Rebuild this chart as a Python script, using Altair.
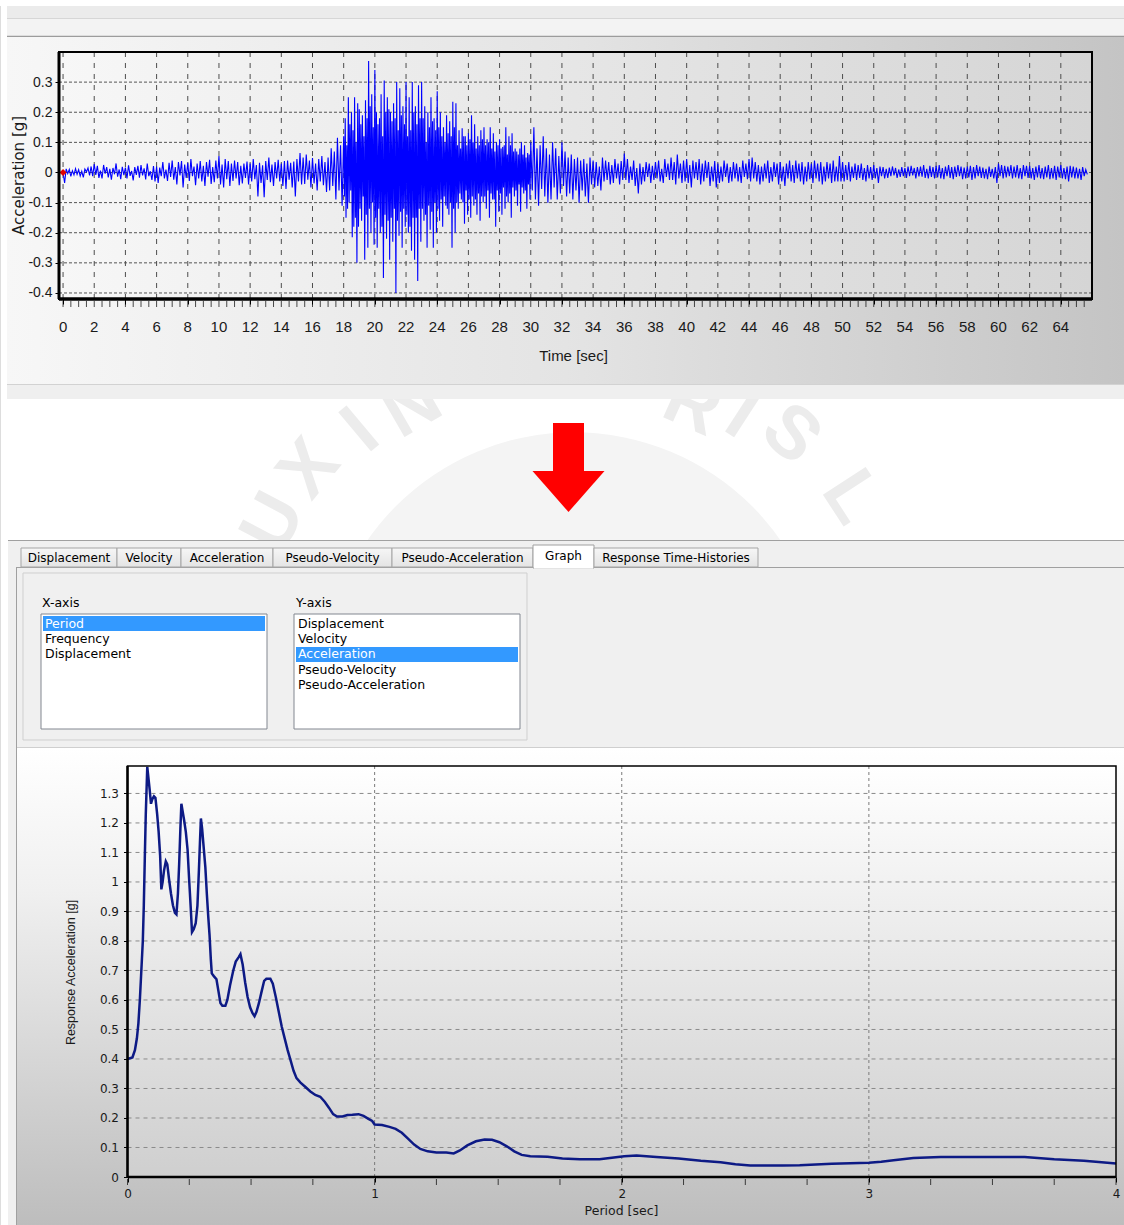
import math
import altair as alt
import pandas as pd

W, H = 1124, 1225

# ---------------------------------------------------------------------------
# Ground acceleration record [g]; one row per second.
# 0-18 s and 30-65.7 s sampled every 0.1 s, strong phase 18-30 s every 0.05 s
# ---------------------------------------------------------------------------
acc_early = [
    0.000, -0.035, 0.012, -0.004, 0.010, -0.013, 0.006, -0.008, 0.013, -0.006,
    0.009, -0.012, 0.004, -0.016, 0.011, 0.002, 0.015, -0.010, 0.020, -0.012,
    0.028, -0.008, 0.022, -0.018, 0.006, -0.020, 0.025, -0.004, 0.018, -0.016,
    0.012, -0.024, 0.015, -0.006, 0.030, -0.014, 0.010, -0.022, 0.019, -0.009,
    0.016, -0.020, 0.024, -0.011, 0.005, -0.026, 0.018, -0.008, 0.022, -0.017,
    0.025, -0.010, 0.014, -0.023, 0.030, -0.012, 0.004, -0.025, 0.021, -0.030,
    0.020, -0.035, 0.016, -0.012, 0.035, -0.020, 0.010, -0.028, 0.032, -0.015,
    0.040, -0.024, 0.018, -0.040, 0.035, -0.010, 0.038, -0.050, 0.026, -0.018,
    0.032, -0.028, 0.045, -0.012, 0.020, -0.042, 0.030, -0.020, 0.038, -0.030,
    0.022, -0.045, 0.035, -0.014, 0.042, -0.038, 0.018, -0.032, 0.040, -0.020,
    0.055, -0.040, 0.026, -0.050, 0.045, -0.022, 0.038, -0.045, 0.030, -0.028,
    0.040, -0.020, 0.035, -0.042, 0.022, -0.036, 0.030, -0.018, 0.036, -0.040,
    0.030, -0.030, 0.045, -0.022, 0.025, -0.080, 0.032, -0.035, 0.024, -0.082,
    0.038, -0.025, 0.050, -0.032, 0.026, -0.045, 0.035, -0.020, 0.042, -0.030,
    0.030, -0.045, 0.038, -0.055, 0.040, -0.024, 0.032, -0.050, 0.036, -0.080,
    0.045, -0.030, 0.065, -0.040, 0.050, -0.038, 0.060, -0.024, 0.040, -0.050,
    0.048, -0.036, 0.030, -0.060, 0.045, -0.030, 0.055, -0.042, 0.035, -0.065,
    0.050, -0.060, 0.080, -0.045, 0.070, -0.090, 0.115, -0.060, 0.090, -0.110,
]
acc_strong = [
    0.120, -0.080, 0.180, -0.150, 0.090, -0.120, 0.250, -0.100, 0.160, -0.060,
    0.200, -0.215, 0.140, -0.180, 0.250, -0.150, 0.100, -0.300, 0.230, -0.180,
    0.210, -0.120, 0.160, -0.160, 0.190, -0.080, 0.120, -0.290, 0.240, -0.140,
    0.180, -0.250, 0.370, -0.120, 0.220, -0.200, 0.260, -0.100, 0.150, -0.240,
    0.340, -0.150, 0.200, -0.250, 0.160, -0.120, 0.180, -0.200, 0.260, -0.180,
    0.120, -0.350, 0.305, -0.140, 0.200, -0.220, 0.250, -0.160, 0.210, -0.290,
    0.200, -0.150, 0.170, -0.230, 0.230, -0.120, 0.180, -0.400, 0.300, -0.160,
    0.140, -0.210, 0.280, -0.130, 0.190, -0.250, 0.220, -0.120, 0.160, -0.180,
    0.300, -0.140, 0.120, -0.200, 0.250, -0.180, 0.140, -0.260, 0.300, -0.150,
    0.200, -0.290, 0.220, -0.150, 0.160, -0.360, 0.290, -0.120, 0.180, -0.230,
    0.300, -0.120, 0.180, -0.160, 0.220, -0.140, 0.100, -0.250, 0.200, -0.110,
    0.150, -0.190, 0.250, -0.130, 0.170, -0.250, 0.180, -0.100, 0.140, -0.200,
    0.270, -0.120, 0.150, -0.160, 0.200, -0.090, 0.120, -0.180, 0.150, -0.080,
    0.100, -0.110, 0.190, -0.120, 0.130, -0.140, 0.170, -0.100, 0.120, -0.250,
    0.235, -0.120, 0.150, -0.200, 0.230, -0.100, 0.090, -0.120, 0.140, -0.070,
    0.080, -0.090, 0.147, -0.100, 0.120, -0.170, 0.120, -0.060, 0.090, -0.140,
    0.130, -0.090, 0.110, -0.150, 0.190, -0.080, 0.100, -0.110, 0.160, -0.090,
    0.080, -0.140, 0.120, -0.070, 0.090, -0.160, 0.140, -0.080, 0.110, -0.100,
    0.150, -0.080, 0.090, -0.120, 0.110, -0.060, 0.100, -0.150, 0.150, -0.070,
    0.080, -0.090, 0.130, -0.090, 0.070, -0.180, 0.100, -0.060, 0.090, -0.130,
    0.110, -0.070, 0.080, -0.140, 0.085, -0.050, 0.090, -0.120, 0.150, -0.080,
    0.060, -0.100, 0.120, -0.070, 0.090, -0.150, 0.130, -0.050, 0.070, -0.080,
    0.080, -0.060, 0.070, -0.110, 0.060, -0.040, 0.080, -0.130, 0.100, -0.050,
    0.060, -0.070, 0.090, -0.060, 0.050, -0.120, 0.065, -0.040, 0.060, -0.090,
]
acc_late = [
    0.100, -0.060, 0.150, -0.090, 0.080, -0.110, 0.090, -0.055, 0.120, -0.080,
    0.080, -0.100, 0.060, -0.090, 0.100, -0.050, 0.080, -0.090, 0.055, -0.070,
    0.100, -0.045, 0.070, -0.080, 0.050, -0.070, 0.060, -0.090, 0.045, -0.060,
    0.050, -0.100, 0.040, -0.060, 0.045, -0.080, 0.030, -0.100, 0.050, -0.040,
    0.040, -0.050, 0.035, -0.045, 0.020, -0.060, 0.050, -0.030, 0.040, -0.025,
    0.035, -0.040, 0.025, -0.035, 0.045, -0.020, 0.030, -0.040, 0.038, -0.025,
    0.063, -0.025, 0.045, -0.035, 0.020, -0.025, 0.040, -0.045, 0.015, -0.070,
    0.030, -0.040, 0.018, -0.030, 0.035, -0.015, 0.030, -0.035, 0.022, -0.025,
    0.035, -0.020, 0.040, -0.030, 0.012, -0.035, 0.045, -0.015, 0.030, -0.025,
    0.050, -0.025, 0.035, -0.040, 0.060, -0.020, 0.030, -0.035, 0.040, -0.030,
    0.045, -0.035, 0.025, -0.050, 0.040, -0.020, 0.035, -0.025, 0.045, -0.040,
    0.030, -0.030, 0.040, -0.018, 0.035, -0.045, 0.020, -0.030, 0.038, -0.050,
    0.030, -0.035, 0.020, -0.030, 0.040, -0.015, 0.030, -0.035, 0.018, -0.030,
    0.035, -0.020, 0.030, -0.030, 0.018, -0.035, 0.040, -0.015, 0.030, -0.022,
    0.045, -0.030, 0.050, -0.020, 0.035, -0.030, 0.025, -0.040, 0.020, -0.030,
    0.030, -0.020, 0.040, -0.035, 0.018, -0.030, 0.035, -0.015, 0.030, -0.040,
    0.035, -0.030, 0.020, -0.045, 0.030, -0.020, 0.040, -0.030, 0.025, -0.035,
    0.040, -0.020, 0.030, -0.030, 0.035, -0.040, 0.020, -0.030, 0.035, -0.022,
    0.030, -0.035, 0.040, -0.020, 0.030, -0.030, 0.035, -0.040, 0.020, -0.030,
    0.035, -0.020, 0.030, -0.035, 0.040, -0.030, 0.020, -0.030, 0.055, -0.030,
    0.035, -0.030, 0.025, -0.025, 0.035, -0.030, 0.020, -0.018, 0.030, -0.025,
    0.025, -0.018, 0.030, -0.025, 0.015, -0.030, 0.025, -0.020, 0.018, -0.025,
    0.025, -0.020, 0.015, -0.035, 0.020, -0.012, 0.018, -0.020, 0.012, -0.018,
    0.016, -0.012, 0.020, -0.010, 0.015, -0.018, 0.010, -0.015, 0.018, -0.012,
    0.015, -0.018, 0.020, -0.012, 0.022, -0.010, 0.015, -0.020, 0.018, -0.013,
    0.020, -0.014, 0.025, -0.018, 0.012, -0.020, 0.022, -0.015, 0.018, -0.020,
    0.022, -0.016, 0.025, -0.020, 0.015, -0.022, 0.020, -0.012, 0.025, -0.018,
    0.018, -0.022, 0.020, -0.015, 0.025, -0.012, 0.020, -0.022, 0.016, -0.020,
    0.020, -0.016, 0.022, -0.025, 0.018, -0.020, 0.025, -0.012, 0.020, -0.018,
    0.016, -0.020, 0.012, -0.022, 0.020, -0.015, 0.012, -0.020, 0.018, -0.035,
    0.030, -0.012, 0.025, -0.020, 0.022, -0.016, 0.020, -0.012, 0.025, -0.020,
    0.020, -0.016, 0.025, -0.020, 0.015, -0.022, 0.025, -0.012, 0.022, -0.018,
    0.022, -0.020, 0.015, -0.025, 0.020, -0.016, 0.025, -0.020, 0.015, -0.022,
    0.020, -0.016, 0.025, -0.022, 0.015, -0.020, 0.022, -0.025, 0.020, -0.016,
    0.025, -0.020, 0.015, -0.022, 0.020, -0.030, 0.022, -0.016, 0.020, -0.020,
    0.016, -0.020, 0.012, -0.025, 0.018, -0.012, 0.010, -0.006,
]
acc_g = acc_early + acc_strong + acc_late
acc_t = ([round(i * 0.1, 2) for i in range(len(acc_early))]
         + [round(18 + i * 0.05, 2) for i in range(len(acc_strong))]
         + [round(30 + i * 0.1, 2) for i in range(len(acc_late))])

# ---------------------------------------------------------------------------
# 5 %-damped response spectrum: period [s] vs. response acceleration [g]
# ---------------------------------------------------------------------------
period_s = [
    0.000, 0.020, 0.030, 0.038, 0.044, 0.050, 0.056, 0.062, 0.066, 0.070,
    0.074, 0.080, 0.085, 0.090, 0.095, 0.100, 0.107, 0.113, 0.120, 0.126,
    0.132, 0.137, 0.142, 0.148, 0.155, 0.161, 0.168, 0.176, 0.184, 0.192,
    0.198, 0.204, 0.209, 0.214, 0.218, 0.223, 0.229, 0.236, 0.243, 0.250,
    0.256, 0.261, 0.268, 0.276, 0.283, 0.289, 0.293, 0.297, 0.302, 0.308,
    0.315, 0.321, 0.327, 0.332, 0.337, 0.341, 0.350, 0.360, 0.368, 0.376,
    0.384, 0.396, 0.404, 0.415, 0.428, 0.438, 0.450, 0.457, 0.466, 0.476,
    0.486, 0.496, 0.506, 0.514, 0.522, 0.532, 0.543, 0.553, 0.562, 0.578,
    0.588, 0.600, 0.612, 0.624, 0.636, 0.648, 0.660, 0.672, 0.684, 0.700,
    0.720, 0.740, 0.760, 0.780, 0.798, 0.815, 0.832, 0.848, 0.870, 0.890,
    0.910, 0.935, 0.955, 0.975, 0.990, 1.000, 1.030, 1.060, 1.085, 1.110,
    1.135, 1.160, 1.185, 1.215, 1.250, 1.290, 1.320, 1.345, 1.375, 1.410,
    1.445, 1.475, 1.505, 1.535, 1.565, 1.595, 1.630, 1.700, 1.760, 1.830,
    1.910, 1.960, 2.010, 2.060, 2.140, 2.230, 2.320, 2.400, 2.460, 2.520,
    2.650, 2.720, 2.850, 3.000, 3.050, 3.100, 3.180, 3.290, 3.500, 3.630,
    3.750, 3.870, 3.930, 4.000,
]
sa_g = [
    0.400, 0.405, 0.430, 0.470, 0.520, 0.600, 0.700, 0.800, 0.920, 1.080,
    1.230, 1.390, 1.350, 1.310, 1.265, 1.280, 1.290, 1.285, 1.230, 1.170,
    1.090, 0.975, 1.000, 1.040, 1.070, 1.060, 1.010, 0.960, 0.920, 0.895,
    0.890, 0.960, 1.060, 1.180, 1.265, 1.240, 1.210, 1.170, 1.110, 1.000,
    0.910, 0.830, 0.840, 0.860, 0.920, 1.040, 1.130, 1.215, 1.180, 1.120,
    1.050, 0.960, 0.880, 0.820, 0.740, 0.690, 0.680, 0.670, 0.630, 0.590,
    0.580, 0.580, 0.600, 0.650, 0.700, 0.730, 0.745, 0.755, 0.720, 0.660,
    0.610, 0.575, 0.555, 0.545, 0.560, 0.590, 0.630, 0.665, 0.672, 0.672,
    0.655, 0.610, 0.560, 0.510, 0.470, 0.430, 0.395, 0.360, 0.335, 0.320,
    0.305, 0.290, 0.278, 0.272, 0.255, 0.235, 0.213, 0.205, 0.205, 0.210,
    0.211, 0.213, 0.207, 0.197, 0.190, 0.178, 0.176, 0.170, 0.163, 0.150,
    0.130, 0.110, 0.095, 0.087, 0.083, 0.083, 0.080, 0.090, 0.107, 0.121,
    0.127, 0.126, 0.118, 0.104, 0.087, 0.075, 0.070, 0.069, 0.063, 0.060,
    0.060, 0.065, 0.070, 0.073, 0.068, 0.063, 0.055, 0.050, 0.043, 0.039,
    0.039, 0.040, 0.045, 0.048, 0.052, 0.057, 0.064, 0.068, 0.068, 0.068,
    0.060, 0.055, 0.051, 0.046,
]

# axis ticks
time_labels = list(range(0, 65, 2))
time_minor = [i * 0.5 for i in range(0, 132)]
acc_ticks = [-0.4, -0.3, -0.2, -0.1, 0.0, 0.1, 0.2, 0.3]
period_labels = [0, 1, 2, 3, 4]
period_grid = [1, 2, 3]
period_minor = [i * 0.25 for i in range(0, 17)]
sa_ticks = [0.0, 0.1, 0.2, 0.3, 0.4, 0.5, 0.6, 0.7, 0.8, 0.9, 1.0, 1.1, 1.2, 1.3]

# dialog texts
tab_names = ["Displacement", "Velocity", "Acceleration", "Pseudo-Velocity",
             "Pseudo-Acceleration", "Graph", "Response Time-Histories"]
xaxis_items = ["Period", "Frequency", "Displacement"]
yaxis_items = ["Displacement", "Velocity", "Acceleration", "Pseudo-Velocity",
               "Pseudo-Acceleration"]

# watermark lettering (the part of the seal's motto left uncovered)
wm_letters = ["U", "X", "I", "N", "R", "I", "S", "L"]
wm_angles = [-62, -51, -40, -30, 24, 33, 42, 57]
wm_radius = [335, 335, 325, 315, 300, 315, 330, 335]

PLOT = "Liberation Sans, Arial, sans-serif"
UI = "DejaVu Sans, Verdana, sans-serif"

ONE = pd.DataFrame({"k": [0]})


# ---------------------------------------------------------------------------
# helpers for the window chrome (pixel placed)
# ---------------------------------------------------------------------------
def grad(stops, vertical=False):
    return alt.LinearGradient(
        gradient="linear",
        stops=[alt.GradientStop(color=c, offset=o) for o, c in stops],
        x1=0, y1=0, x2=0 if vertical else 1, y2=1 if vertical else 0,
    )


def box(x0, x1, y0, y1, fill="transparent", stroke=None, sw=1.0):
    props = dict(fill=fill)
    if stroke is not None:
        props.update(stroke=stroke, strokeWidth=sw)
    return alt.Chart(ONE).mark_rect(**props).encode(
        x=alt.value(x0), x2=alt.value(x1), y=alt.value(y0), y2=alt.value(y1))


def hline(y, x0, x1, color, sw=1.0):
    return alt.Chart(ONE).mark_rule(color=color, strokeWidth=sw).encode(
        x=alt.value(x0), x2=alt.value(x1), y=alt.value(y))


def vline(x, y0, y1, color, sw=1.0):
    return alt.Chart(ONE).mark_rule(color=color, strokeWidth=sw).encode(
        x=alt.value(x), y=alt.value(y0), y2=alt.value(y1))


def label(s, x, y, size=12, font=UI, color="#000000", align="left", angle=0, weight="normal"):
    return alt.Chart(ONE).mark_text(
        text=s, align=align, baseline="middle", font=font, fontSize=size,
        color=color, angle=angle, fontWeight=weight,
    ).encode(x=alt.value(x), y=alt.value(y))


decor = []

# faint university seal behind everything
decor.append(
    alt.Chart(ONE).mark_point(shape="circle", filled=True, fill="#f4f4f4", strokeWidth=0,
                              opacity=1, size=math.pi * 284 ** 2)
    .encode(x=alt.value(574), y=alt.value(684)))
for ch, ang, r in zip(wm_letters, wm_angles, wm_radius):
    px = 570 + r * math.sin(math.radians(ang))
    py = 680 - r * math.cos(math.radians(ang))
    decor.append(label(ch, px, py, size=74, font=PLOT, color="#ececec",
                       align="center", angle=ang % 360, weight="bold"))

# top tool strip and accelerogram panel
decor += [
    box(0, W, 0, 6, fill="#ffffff"),
    box(7, W, 6, 18, fill="#ebebeb"),
    hline(18.5, 7, W, "#d6d6d6"),
    box(7, W, 19, 36, fill="#f3f3f3"),
    hline(36.5, 7, W, "#9c9c9c", 1.5),
    box(7, W, 37, 384, fill=grad([(0, "#f7f7f7"), (0.5, "#e4e4e4"), (1, "#c4c4c4")])),
    hline(384.5, 7, W, "#d2d2d2"),
    box(7, W, 385, 399, fill="#efefef"),
]

# red arrow
decor += [
    box(553, 584, 423, 472, fill="#ff0000"),
    alt.Chart(ONE).mark_point(shape="M-1,-0.57L1,-0.57L0,0.57Z", filled=True, fill="#ff0000",
                              strokeWidth=0, opacity=1, size=72 ** 2)
    .encode(x=alt.value(568.5), y=alt.value(491.5)),
]

# tab control
decor += [
    box(8, W, 541, H, fill="#f0f0f0"),
    hline(540.5, 8, W, "#a0a0a0"),
    hline(567.5, 16, W, "#a0a0a0"),
    vline(16.5, 567, H, "#a0a0a0"),
]
tab_edges = [21, 117, 181, 273, 392, 533, 594, 758]
for i, name in enumerate(tab_names):
    x0, x1 = tab_edges[i], tab_edges[i + 1]
    if name == "Graph":
        decor += [box(x0, x1, 545, 568, fill="#ffffff", stroke="#a0a0a0"),
                  hline(567.5, x0 + 1, x1 - 1, "#ffffff", 2),
                  label(name, (x0 + x1) / 2, 556, align="center")]
    else:
        decor += [box(x0, x1, 548, 567,
                      fill=grad([(0, "#f6f6f6"), (1, "#e4e4e4")], vertical=True),
                      stroke="#a5a5a5"),
                  label(name, (x0 + x1) / 2, 558, align="center")]

# axis selection group with two list boxes
decor += [
    box(23, 527, 573, 740, fill="#f0f0f0", stroke="#cfcfcf"),
    label("X-axis", 42, 603, size=12.5),
    label("Y-axis", 296, 603, size=12.5),
    box(41, 267, 614, 729, fill="#ffffff", stroke="#828790"),
    box(294, 520, 614, 729, fill="#ffffff", stroke="#828790"),
    box(43, 265, 616, 631, fill="#3399ff"),
    box(296, 518, 647, 662, fill="#3399ff"),
]
for i, item in enumerate(xaxis_items):
    decor.append(label(item, 45, 623.5 + 15.4 * i, size=12.5,
                       color="#ffffff" if i == 0 else "#000000"))
for i, item in enumerate(yaxis_items):
    decor.append(label(item, 298, 623.5 + 15.4 * i, size=12.5,
                       color="#ffffff" if i == 2 else "#000000"))

# spectrum chart surface
decor += [
    box(17, W, 748, H, fill=grad([(0, "#ffffff"), (0.3, "#f0f0f0"), (1, "#bdbdbd")], vertical=True)),
    hline(747.5, 17, W, "#cfcfcf"),
]

# ---------------------------------------------------------------------------
# accelerogram
# ---------------------------------------------------------------------------
T0, T1 = -0.26, 66.0
A0, A1 = -0.42, 0.40
xs_t = alt.Scale(domain=[T0, T1], range=[59, 1092], nice=False, zero=False)
ys_t = alt.Scale(domain=[A0, A1], range=[299, 52], nice=False, zero=False)
acc_df = pd.DataFrame({"t": acc_t, "a": acc_g})


def xt(v):
    return alt.XDatum(v, type="quantitative", scale=xs_t)


def yt(v):
    return alt.YDatum(v, type="quantitative", scale=ys_t)


axis_time = alt.Axis(
    orient="bottom", offset=299 - H, values=time_labels, zindex=1,
    tickSize=5, tickColor="#000000", domain=False, grid=False, labels=False,
    title="Time [sec]", titleFont=PLOT, titleFontSize=15, titleFontWeight="normal",
    titleColor="#1a1a1a", titleX=573, titleY=56, titleAlign="center", titleBaseline="middle",
)
axis_acc = alt.Axis(
    orient="left", offset=-59, values=acc_ticks, zindex=1,
    labelExpr="datum.value < 0 ? '-' + format(-datum.value, '~g') : format(datum.value, '~g')",
    tickSize=4, tickColor="#000000", domain=False, grid=False,
    labelOverlap=False, labelFlush=False,
    labelFont=PLOT, labelFontSize=14, labelColor="#1a1a1a", labelPadding=3,
    title="Acceleration [g]", titleFont=UI, titleFontSize=15, titleFontWeight="normal",
    titleColor="#1a1a1a", titleX=-41, titleY=175, titleAngle=270,
    titleAlign="center", titleBaseline="middle",
)

# the trace layer carries the axes; the other layers share its scales
top_plot = alt.layer(
    alt.Chart(ONE).mark_rect(fill=grad([(0, "#f7f7f7"), (1, "#d5d5d5")]))
    .encode(x=xt(T0), x2=alt.X2Datum(T1), y=yt(A0), y2=alt.Y2Datum(A1)),
    alt.Chart(pd.DataFrame({"t": time_labels}))
    .mark_rule(color="#4d4d4d", strokeWidth=1, strokeDash=[5, 6])
    .encode(x=alt.X("t:Q", scale=xs_t), y=yt(A0), y2=alt.Y2Datum(A1)),
    alt.Chart(pd.DataFrame({"a": acc_ticks}))
    .mark_rule(color="#555555", strokeWidth=1, strokeDash=[3, 2])
    .encode(y=alt.Y("a:Q", scale=ys_t), x=xt(T0), x2=alt.X2Datum(T1)),
    alt.Chart(acc_df).mark_line(color="#0000ff", strokeWidth=1.1)
    .encode(x=alt.X("t:Q", scale=xs_t, axis=axis_time),
            y=alt.Y("a:Q", scale=ys_t, axis=axis_acc)),
    alt.Chart(acc_df.head(1))
    .mark_point(shape="diamond", filled=True, color="#e00000", size=50, opacity=1)
    .encode(x=alt.X("t:Q", scale=xs_t), y=alt.Y("a:Q", scale=ys_t)),
    # half-second minor ticks under the frame
    alt.Chart(pd.DataFrame({"t": time_minor}))
    .mark_tick(orient="vertical", color="#000000", size=6, thickness=1, yOffset=5)
    .encode(x=alt.X("t:Q", scale=xs_t), y=yt(A0)),
    # time labels under the frame
    alt.Chart(pd.DataFrame({"t": time_labels}))
    .mark_text(align="center", baseline="middle", dy=28, font=PLOT, fontSize=15,
               color="#1a1a1a")
    .encode(x=alt.X("t:Q", scale=xs_t), y=yt(A0), text=alt.Text("t:Q", format="d")),
    alt.Chart(ONE).mark_rect(fill="transparent", stroke="#000000", strokeWidth=2)
    .encode(x=xt(T0), x2=alt.X2Datum(T1), y=yt(A0), y2=alt.Y2Datum(A1)),
    alt.Chart(ONE).mark_rule(color="#000000", strokeWidth=3.5)
    .encode(x=xt(T0), x2=alt.X2Datum(T1), y=yt(A0)),
    alt.Chart(ONE).mark_rule(color="#000000", strokeWidth=3)
    .encode(x=xt(T0), y=yt(A0), y2=alt.Y2Datum(A1)),
)

# ---------------------------------------------------------------------------
# response spectrum
# ---------------------------------------------------------------------------
P0, P1 = 0.0, 4.0
S0, S1 = 0.0, 1.393
xs_b = alt.Scale(domain=[P0, P1], range=[127.5, 1116], nice=False, zero=False)
ys_b = alt.Scale(domain=[S0, S1], range=[1177, 766], nice=False, zero=False)
spec_df = pd.DataFrame({"T": period_s, "Sa": sa_g})


def xb(v):
    return alt.XDatum(v, type="quantitative", scale=xs_b)


def yb(v):
    return alt.YDatum(v, type="quantitative", scale=ys_b)


axis_period = alt.Axis(
    orient="bottom", offset=1177 - H, values=period_labels, zindex=1, format="~g",
    tickSize=5, tickColor="#000000", domain=False, grid=False,
    labelOverlap=False, labelFlush=False,
    labelFont=UI, labelFontSize=12, labelColor="#1a1a1a",
    labelBaseline="middle", labelPadding=11,
    title="Period [sec]", titleFont=UI, titleFontSize=12.5, titleFontWeight="normal",
    titleColor="#1a1a1a", titleX=621, titleY=33, titleAlign="center", titleBaseline="middle",
)
axis_sa = alt.Axis(
    orient="left", offset=-127.5, values=sa_ticks, zindex=1, format="~g",
    tickSize=4, tickColor="#000000", domain=False, grid=False,
    labelOverlap=False, labelFlush=False,
    labelFont=UI, labelFontSize=12, labelColor="#1a1a1a", labelPadding=5,
    title="Response Acceleration [g]", titleFont=PLOT, titleFontSize=12.5,
    titleFontWeight="normal", titleColor="#1a1a1a", titleX=-57.5, titleY=972,
    titleAngle=270, titleAlign="center", titleBaseline="middle",
)

bottom_plot = alt.layer(
    alt.Chart(ONE).mark_rect(fill=grad([(0, "#ffffff"), (1, "#cfcfcf")], vertical=True))
    .encode(x=xb(P0), x2=alt.X2Datum(P1), y=yb(S0), y2=alt.Y2Datum(S1)),
    alt.Chart(pd.DataFrame({"T": period_grid}))
    .mark_rule(color="#7a7a7a", strokeWidth=1, strokeDash=[3, 3])
    .encode(x=alt.X("T:Q", scale=xs_b), y=yb(S0), y2=alt.Y2Datum(S1)),
    alt.Chart(pd.DataFrame({"Sa": sa_ticks[1:]}))
    .mark_rule(color="#8a8a8a", strokeWidth=1, strokeDash=[4, 4])
    .encode(y=alt.Y("Sa:Q", scale=ys_b), x=xb(P0), x2=alt.X2Datum(P1)),
    alt.Chart(spec_df).mark_line(color="#0d1a85", strokeWidth=2.5)
    .encode(x=alt.X("T:Q", scale=xs_b, axis=axis_period),
            y=alt.Y("Sa:Q", scale=ys_b, axis=axis_sa)),
    # quarter-second minor ticks under the frame
    alt.Chart(pd.DataFrame({"T": period_minor}))
    .mark_tick(orient="vertical", color="#000000", size=6, thickness=1, yOffset=5)
    .encode(x=alt.X("T:Q", scale=xs_b), y=yb(S0)),
    alt.Chart(ONE).mark_rect(fill="transparent", stroke="#000000", strokeWidth=1.5)
    .encode(x=xb(P0), x2=alt.X2Datum(P1), y=yb(S0), y2=alt.Y2Datum(S1)),
    alt.Chart(ONE).mark_rule(color="#000000", strokeWidth=2.5)
    .encode(x=xb(P0), x2=alt.X2Datum(P1), y=yb(S0)),
    alt.Chart(ONE).mark_rule(color="#000000", strokeWidth=2.5)
    .encode(x=xb(P0), y=yb(S0), y2=alt.Y2Datum(S1)),
)

chart = (
    alt.layer(*decor, top_plot, bottom_plot)
    .resolve_scale(x="independent", y="independent")
    .properties(width=W, height=H, padding=0,
                autosize=alt.AutoSizeParams(type="none"))
    .configure_view(stroke=None)
    .configure(background="#ffffff")
)

chart.save("out.html", embed_options={"renderer": "svg", "actions": False})
